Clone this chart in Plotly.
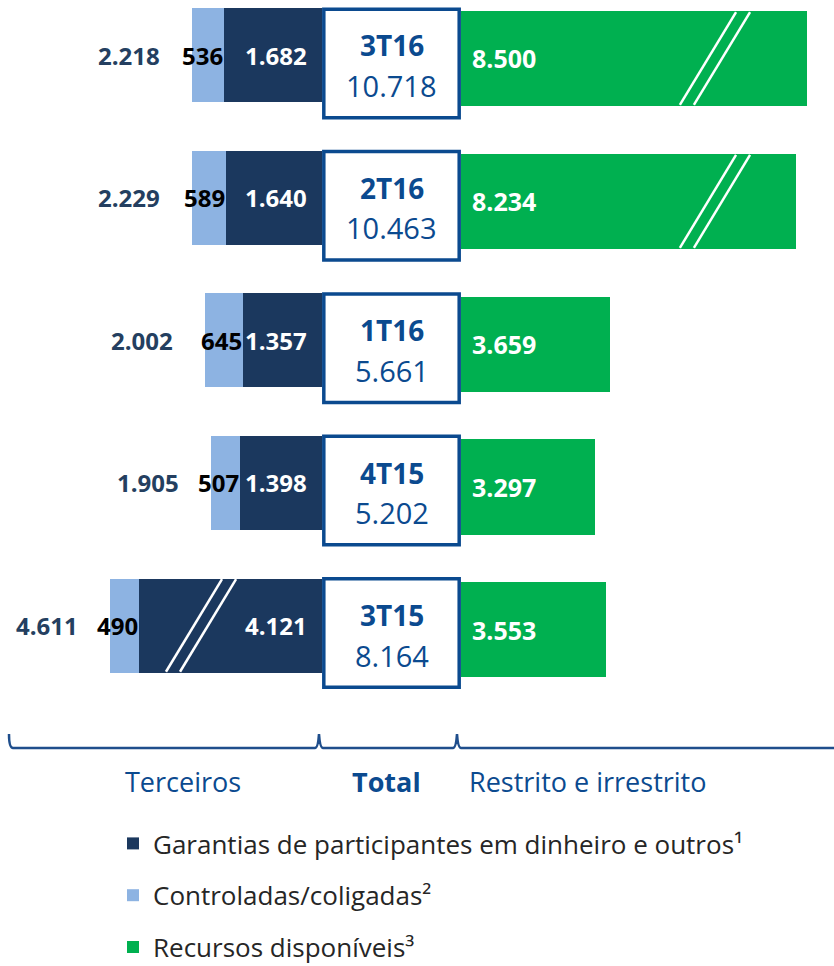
import plotly.graph_objects as go

# ---------------- data (R$ milhões) ----------------
periodos = ["3T16", "2T16", "1T16", "4T15", "3T15"]
garantias = [1682, 1640, 1357, 1398, 4121]      # Garantias de participantes em dinheiro e outros
controladas = [536, 589, 645, 507, 490]          # Controladas/coligadas
recursos = [8500, 8234, 3659, 3297, 3553]        # Recursos disponíveis (restrito e irrestrito)

legend_names = ["Garantias de participantes em dinheiro e outros¹",
                "Controladas/coligadas²",
                "Recursos disponíveis³"]
group_labels = ["Terceiros", "Total", "Restrito e irrestrito"]

terceiros = [g + c for g, c in zip(garantias, controladas)]
totais = [t + r for t, r in zip(terceiros, recursos)]

# ---------------- styling / layout constants ----------------
W, H = 834, 966
C_DARK = "#1B385E"
C_LIGHT = "#8DB3E2"
C_GREEN = "#00B050"
C_BLUE = "#0B4A8F"
C_LABEL = "#243F60"
FONT = "Open Sans"

LEFT_PX = 0.0585        # px per unit, left (terceiros) scale
RIGHT_PX = 0.0407       # px per unit, right (recursos) scale
X_MID_L, X_MID_R = 322, 461
LEFT_CAP = 3130         # broken-axis cap for long left bars
RIGHT_MARK = 6000       # right bars beyond this get a break mark

idx = list(range(len(periodos)))
gar_disp = [min(g, LEFT_CAP) for g in garantias]


def fmt(v):
    return f"{v:,}".replace(",", ".")


def ydom(c0, sp, lo, hi):
    top = c0 + lo * sp
    bottom = c0 + hi * sp
    return [1 - bottom / H, 1 - top / H], [hi, lo]


def P(x, y):
    return f"{x / W:.5f},{1 - y / H:.5f}"


dom_l, rng_l = ydom(55, 142.6, -0.38, 4.5)
dom_r, rng_r = ydom(58.5, 142.9, -0.38, 4.5)
dom_c, rng_c = ydom(63.4, 142.4, -0.44, 4.5)

fig = go.Figure()

fig.add_trace(go.Bar(
    y=idx, x=gar_disp, orientation="h", xaxis="x", yaxis="y",
    name=legend_names[0], marker=dict(color=C_DARK, line=dict(width=0)),
    width=0.659, customdata=garantias, hovertemplate="%{customdata}<extra></extra>",
    legendgroup="g1"))
fig.add_trace(go.Bar(
    y=idx, x=controladas, base=gar_disp, orientation="h", xaxis="x", yaxis="y",
    name=legend_names[1], marker=dict(color=C_LIGHT, line=dict(width=0)),
    width=0.659, legendgroup="g2"))
fig.add_trace(go.Bar(
    y=idx, x=recursos, orientation="h", xaxis="x2", yaxis="y2",
    name=legend_names[2], marker=dict(color=C_GREEN, line=dict(width=0)),
    width=0.665, legendgroup="g3"))
# helper trace to anchor the centre (total) column
fig.add_trace(go.Scatter(x=[0.5] * len(idx), y=idx, xaxis="x3", yaxis="y3",
                         mode="none", showlegend=False, hoverinfo="skip"))

ann = []
shapes = []
for i in idx:
    # left labels
    ann.append(dict(x=gar_disp[i] + controladas[i], y=i, xref="x", yref="y",
                    xanchor="right", xshift=-30, showarrow=False,
                    text=f"<b>{fmt(terceiros[i])}</b>",
                    font=dict(family=FONT, size=24, color=C_LABEL)))
    ann.append(dict(x=gar_disp[i], y=i, xref="x", yref="y",
                    xanchor="right", xshift=1, showarrow=False,
                    text=f"<b>{fmt(controladas[i])}</b>",
                    font=dict(family=FONT, size=24, color="#000000")))
    ann.append(dict(x=0, y=i, xref="x", yref="y",
                    xanchor="right", xshift=-13, showarrow=False,
                    text=f"<b>{fmt(garantias[i])}</b>",
                    font=dict(family=FONT, size=24, color="#FFFFFF")))
    # right labels
    ann.append(dict(x=0, y=i, xref="x2", yref="y2",
                    xanchor="left", xshift=9, showarrow=False,
                    text=f"<b>{fmt(recursos[i])}</b>",
                    font=dict(family=FONT, size=25, color="#FFFFFF")))
    # centre box
    shapes.append(dict(type="rect", xref="x3", yref="y3", x0=0.013, x1=0.987,
                       y0=i - 0.381, y1=i + 0.381,
                       line=dict(color=C_BLUE, width=3.5), fillcolor="#FFFFFF",
                       layer="above"))
    ann.append(dict(x=0.5, y=i, xref="x3", yref="y3", yshift=18, showarrow=False,
                    text=f"<b>{periodos[i]}</b>",
                    font=dict(family=FONT, size=28, color=C_BLUE)))
    ann.append(dict(x=0.5, y=i, xref="x3", yref="y3", yshift=-22, showarrow=False,
                    text=fmt(totais[i]),
                    font=dict(family=FONT, size=29, color=C_BLUE)))

    # break marks
    if recursos[i] > RIGHT_MARK:
        c, half, off = 6240, 690, 172
        for o in (-off, off):
            shapes.append(dict(type="line", xref="x2", yref="y2",
                               x0=c + o - half, y0=i + 0.325, x1=c + o + half, y1=i - 0.325,
                               line=dict(color="#FFFFFF", width=2.5), layer="above"))
    if garantias[i] > LEFT_CAP:
        c, half, off = 2068, 479, 120
        for o in (-off, off):
            shapes.append(dict(type="line", xref="x", yref="y",
                               x0=c + o + half, y0=i + 0.325, x1=c + o - half, y1=i - 0.325,
                               line=dict(color="#FFFFFF", width=2.5), layer="above"))

# braces under the chart
brace = ("M " + P(9, 734) + " Q " + P(9, 748) + " " + P(13, 748) +
         " L " + P(315, 748) + " Q " + P(318, 748) + " " + P(319, 734) +
         " Q " + P(320, 748) + " " + P(323, 748) +
         " L " + P(453, 748) + " Q " + P(456, 748) + " " + P(457, 734) +
         " Q " + P(458, 748) + " " + P(461, 748) + " L " + P(834, 748))
shapes.append(dict(type="path", xref="paper", yref="paper", path=brace,
                   line=dict(color="#1F4E8C", width=2.5)))

for lbl, xc, bold in zip(group_labels, [183, 386, 587], [False, True, False]):
    ann.append(dict(x=xc / W, y=1 - 781 / H, xref="paper", yref="paper",
                    xanchor="center", yanchor="middle",
                    showarrow=False, text=f"<b>{lbl}</b>" if bold else lbl,
                    font=dict(family=FONT, size=27, color=C_BLUE)))

hidden = dict(visible=False, showgrid=False, zeroline=False, fixedrange=True)
fig.update_layout(
    width=W, height=H,
    margin=dict(l=0, r=0, t=0, b=0, autoexpand=False),
    paper_bgcolor="#FFFFFF", plot_bgcolor="rgba(0,0,0,0)",
    barmode="overlay", bargap=0,
    xaxis=dict(domain=[0, X_MID_L / W], range=[X_MID_L / LEFT_PX, 0], anchor="y", **hidden),
    yaxis=dict(domain=dom_l, range=rng_l, anchor="x", **hidden),
    xaxis2=dict(domain=[X_MID_R / W, 1], range=[0, (W - X_MID_R) / RIGHT_PX], anchor="y2", **hidden),
    yaxis2=dict(domain=dom_r, range=rng_r, anchor="x2", **hidden),
    xaxis3=dict(domain=[X_MID_L / W, X_MID_R / W], range=[0, 1], anchor="y3", **hidden),
    yaxis3=dict(domain=dom_c, range=rng_c, anchor="x3", **hidden),
    annotations=ann, shapes=shapes,
    showlegend=True,
    legend=dict(x=113 / W, y=1 - 820 / H, xanchor="left", yanchor="top",
                traceorder="grouped", tracegroupgap=15,
                font=dict(family=FONT, size=26, color="#262626"),
                bgcolor="rgba(0,0,0,0)"),
)

fig.write_html(
    "out.html",
    config={"displayModeBar": False},
    post_script=("document.documentElement.style.overflow='hidden';"
                 "document.body.style.margin='0px';"
                 "document.body.style.overflow='hidden';"),
)
